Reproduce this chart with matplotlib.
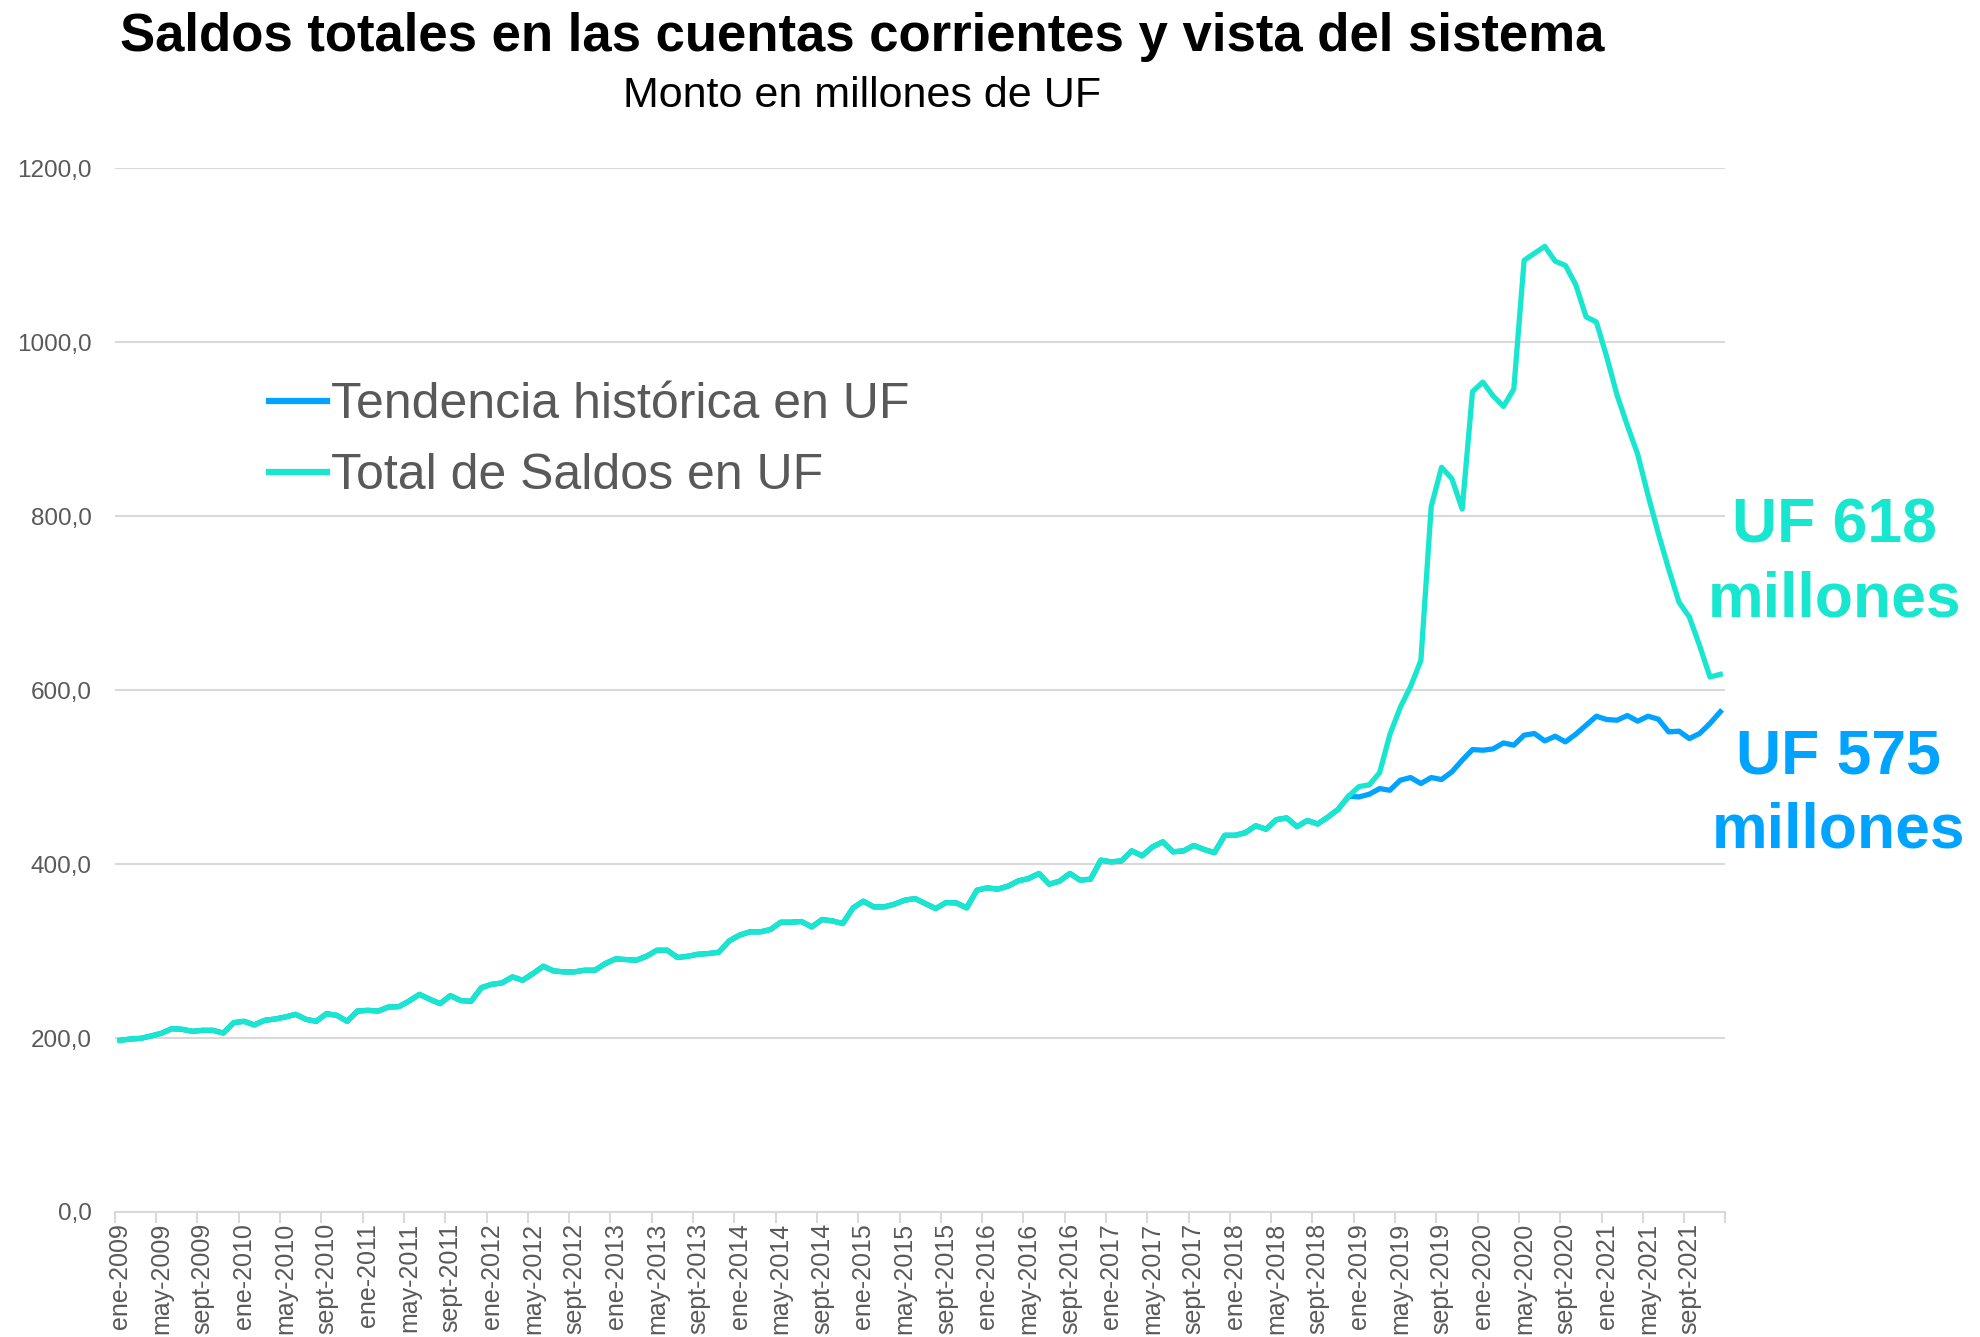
import matplotlib
matplotlib.use("Agg")
import matplotlib.pyplot as plt
from matplotlib.ticker import FixedLocator, FuncFormatter

plt.rcParams["font.family"] = ["Liberation Sans", "DejaVu Sans"]

TEAL = "#19E6CF"
BLUE = "#00A3FF"
GRAY = "#595959"
GRID = "#D9D9D9"

months = ["ene", "feb", "mar", "abr", "may", "jun",
          "jul", "ago", "sept", "oct", "nov", "dic"]
years = list(range(2009, 2022))

# monthly balances, ene-2009 .. dic-2021 (millones de UF)
total_saldos = [
    197.3, 198.8, 199.6, 202.3, 205.4, 210.7, 210.0, 207.7, 208.8, 208.8, 205.7, 217.6,
    219.2, 215.0, 220.3, 221.8, 224.1, 227.2, 221.5, 219.2, 228.0, 226.0, 219.2, 231.0,
    231.8, 231.0, 235.6, 236.0, 242.5, 250.2, 244.5, 239.5, 248.7, 243.0, 242.2, 257.9,
    261.7, 263.3, 270.2, 266.4, 274.1, 282.5, 277.1, 276.0, 276.0, 277.9, 277.9, 285.6,
    290.9, 290.2, 289.4, 294.0, 300.9, 300.9, 292.5, 294.0, 296.3, 297.1, 298.6, 311.6,
    318.2, 322.0, 322.0, 324.7, 333.1, 333.1, 333.9, 327.7, 336.2, 334.6, 331.6, 349.6,
    357.3, 350.7, 350.7, 353.8, 358.4, 360.3, 354.6, 348.8, 355.7, 355.3, 349.6, 369.9,
    372.6, 371.1, 374.5, 380.6, 383.3, 389.1, 376.8, 380.3, 389.1, 381.4, 382.6, 404.4,
    402.5, 403.6, 415.1, 409.4, 419.7, 425.5, 414.0, 415.1, 421.3, 416.7, 413.0, 433.0,
    433.0, 436.0, 444.0, 440.0, 451.0, 453.0, 443.0, 450.0, 446.0, 454.0, 463.0, 478.0,
    489.0, 491.0, 505.0, 549.0, 580.0, 604.0, 634.0, 811.0, 856.0, 843.0, 808.0, 943.0,
    954.0, 938.0, 926.0, 946.0, 1094.0, 1102.0, 1110.0, 1093.0, 1088.0, 1066.0, 1029.0, 1023.0,
    983.0, 939.0, 904.0, 871.0, 824.0, 780.0, 739.0, 701.0, 684.0, 651.0, 615.0, 618.0,
]

# the trend overlaps the total until dic-2018, then splits off
tendencia = total_saldos[:120] + [
    477.1, 480.2, 486.7, 484.8, 496.3, 499.4, 492.5, 499.4, 497.1, 505.9, 519.3, 531.6,
    530.8, 532.3, 539.2, 536.6, 548.1, 550.0, 541.5, 546.9, 540.4, 549.2, 559.6, 569.9,
    566.1, 565.3, 570.7, 564.2, 569.9, 566.5, 551.9, 552.7, 544.2, 550.0, 561.5, 575.0,
]

labels = [f"{m}-{y}" for y in years for m in months]
x = list(range(len(total_saldos)))

fig = plt.figure(figsize=(19.81, 13.37), dpi=100)
ax = fig.add_axes([0.058, 0.0935, 0.813, 0.7808])

ax.plot(x, tendencia, color=BLUE, lw=3.8, solid_joinstyle="round",
        label="Tendencia histórica en UF")
ax.plot(x, total_saldos, color=TEAL, lw=3.8, solid_joinstyle="round",
        label="Total de Saldos en UF")

ax.set_xlim(-0.5, len(x) - 0.5)
ax.set_ylim(0, 1200)
ax.set_yticks(range(0, 1201, 200))
ax.yaxis.set_major_formatter(FuncFormatter(lambda v, p: f"{v:.1f}".replace(".", ",")))
ax.grid(axis="y", color=GRID, lw=1.5)
ax.set_axisbelow(True)
ax.tick_params(axis="y", length=0, pad=16.5, labelsize=17.5, labelcolor=GRAY)

lab_pos = list(range(0, len(x), 4))
ax.set_xticks(lab_pos)
ax.set_xticklabels([labels[i] for i in lab_pos], rotation=90, ha="center", va="top")
ax.xaxis.set_minor_locator(FixedLocator([i - 0.5 for i in range(0, len(x) + 1, 4)]))
ax.tick_params(axis="x", which="major", length=0, pad=8, labelsize=18, labelcolor=GRAY)
ax.tick_params(axis="x", which="minor", length=8, width=1.5, color=GRID)

for s in ["top", "right", "left"]:
    ax.spines[s].set_visible(False)
ax.spines["bottom"].set_color(GRID)
ax.spines["bottom"].set_linewidth(1.5)

leg = ax.legend(loc="upper left", bbox_to_anchor=(0.136, 0.714),
                bbox_transform=fig.transFigure, frameon=False, fontsize=36,
                handlelength=1.15, handletextpad=0.08, labelspacing=0.5,
                borderpad=0, borderaxespad=0)
for t in leg.get_texts():
    t.set_color(GRAY)
for h in leg.get_lines():
    h.set_linewidth(4.5)

fig.text(0.435, 0.962, "Saldos totales en las cuentas corrientes y vista del sistema",
         ha="center", va="baseline", fontsize=38, fontweight="bold", color="black")
fig.text(0.435, 0.92, "Monto en millones de UF",
         ha="center", va="baseline", fontsize=31, color="black")

fig.text(0.926, 0.579, "UF 618\nmillones", ha="center", va="center",
         fontsize=45, fontweight="bold", color=TEAL, linespacing=1.32)
fig.text(0.928, 0.406, "UF 575\nmillones", ha="center", va="center",
         fontsize=45, fontweight="bold", color=BLUE, linespacing=1.32)

fig.savefig("out.png", dpi=100)
